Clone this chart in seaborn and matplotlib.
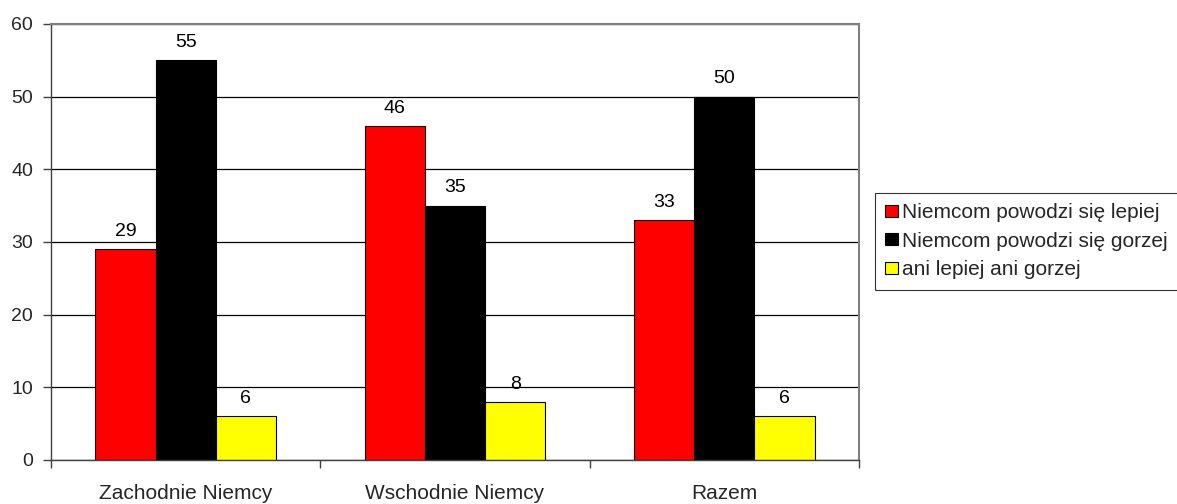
import matplotlib
matplotlib.use("Agg")
import matplotlib.pyplot as plt
import seaborn as sns
import pandas as pd

regions = ["Zachodnie Niemcy", "Wschodnie Niemcy", "Razem"]
series_names = ["Niemcom powodzi się lepiej", "Niemcom powodzi się gorzej", "ani lepiej ani gorzej"]
better = [29, 46, 33]
worse = [55, 35, 50]
neither = [6, 8, 6]
colors = ["#FF0000", "#000000", "#FFFF00"]
y_ticks = [0, 10, 20, 30, 40, 50, 60]

rows = []
for name, vals in zip(series_names, [better, worse, neither]):
    for reg, v in zip(regions, vals):
        rows.append({"region": reg, "series": name, "value": v})
df = pd.DataFrame(rows)

sns.set_theme(style="white")
plt.rcParams["font.family"] = ["Liberation Sans", "DejaVu Sans"]

fig = plt.figure(figsize=(11.77, 5.04), dpi=100)
ax = fig.add_axes([51 / 1177, 44 / 504, (859 - 51) / 1177, (460 - 24) / 504])

sns.barplot(data=df, x="region", y="value", hue="series", order=regions,
            hue_order=series_names, palette=colors, width=0.67, gap=0,
            edgecolor="black", linewidth=0.8, saturation=1, ax=ax,
            errorbar=None, legend=True, zorder=3)

for container in ax.containers:
    for bar in container:
        h = bar.get_height()
        ax.annotate(f"{h:.0f}", (bar.get_x() + bar.get_width() / 2, h),
                    xytext=(0, 9.5), textcoords="offset points",
                    ha="center", va="baseline", fontsize=14, color="black")

ax.set_ylim(0, 60)
ax.set_xlim(-0.5, 2.5)
ax.set_yticks(y_ticks)
ax.yaxis.grid(True, color="black", linewidth=0.9, zorder=0)
ax.set_axisbelow(True)
ax.set_xlabel("")
ax.set_ylabel("")

ax.set_xticks([0, 1, 2])
ax.set_xticks([-0.5, 0.5, 1.5, 2.5], minor=True)
ax.tick_params(axis="x", which="major", length=0, pad=17, labelsize=15)
ax.tick_params(axis="x", which="minor", length=6, width=1, color="#404040", direction="out", bottom=True)
ax.tick_params(axis="y", which="major", length=6, width=1, color="#404040", direction="out", left=True, pad=7, labelsize=14)

for side in ["left", "bottom"]:
    ax.spines[side].set_color("#404040")
    ax.spines[side].set_linewidth(1)
for side in ["top", "right"]:
    ax.spines[side].set_color("#808080")
    ax.spines[side].set_linewidth(1.5)
ax.spines["bottom"].set_zorder(4)

handles, labels = ax.get_legend_handles_labels()
ax.get_legend().remove()
leg = fig.legend(handles, labels, loc="upper left",
                 bbox_to_anchor=(875 / 1177, 1 - 193 / 504),
                 borderaxespad=0, fontsize=15, frameon=True, fancybox=False,
                 edgecolor="black", handlelength=0.6, handleheight=0.5,
                 handletextpad=0.2, labelspacing=0.45, borderpad=0.5)
leg.get_frame().set_linewidth(0.8)

fig.savefig("out.png", dpi=100, facecolor="white")
